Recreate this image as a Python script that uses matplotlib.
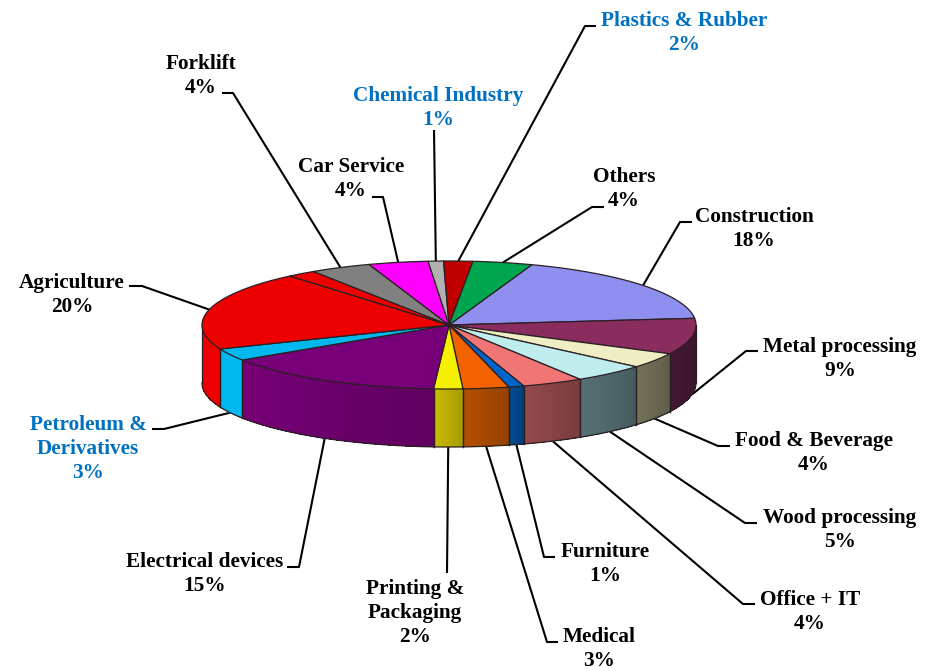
import numpy as np
import matplotlib
matplotlib.use('Agg')
import matplotlib.pyplot as plt
from matplotlib.colors import to_rgb

# clockwise from the construction slice
labels = ['Construction\n18%', 'Metal processing\n9%', 'Food & Beverage\n4%', 'Wood processing\n5%',
          'Office + IT\n4%', 'Furniture\n1%', 'Medical\n3%', 'Printing &\nPackaging\n2%',
          'Electrical devices\n15%', 'Petroleum &\nDerivatives\n3%', 'Agriculture\n20%', '',
          'Forklift\n4%', 'Car Service\n4%', 'Chemical Industry\n1%', 'Plastics & Rubber\n2%', 'Others\n4%']
values = [17.9, 9.1, 3.9, 4.8, 4.0, 1.0, 3.0, 1.9, 14.8, 3.1, 20.0, 1.9, 4.0, 3.9, 1.0, 1.9, 3.9]

top_colors = ['#8f8fef', '#8b2c5f', '#efedc3', '#bfedee', '#f07575', '#0066cc', '#f26300', '#f5f000',
              '#780078', '#00b8ee', '#ee0000', '#ee0000', '#808080', '#ff00ff', '#b2b2b2', '#c00000', '#00a550']
side_colors = ['#5a5a96', '#3f1630', '#6c6a52', '#4f686c', '#8a4448', '#00478c', '#a84a00', '#bdb000',
               '#6e006e', '#00b8ee', '#ee0000', '#ee0000', '#808080', '#ff00ff', '#b2b2b2', '#c00000', '#00a550']
text_colors = {'Petroleum &\nDerivatives\n3%', 'Chemical Industry\n1%', 'Plastics & Rubber\n2%'}

# label centres and leader line start / elbow, in pixels
label_pos = [(754, 229), (840, 359), (814, 453), (840, 530), (810, 612), (605, 564), (599, 649), (415, 613),
             (205, 574), (88, 449), (72, 295), None, (201, 76), (351, 179), (438, 108), (684, 33), (624, 189)]
leader_pts = [[(692, 222), (680, 222)], [(758, 351), (746, 351)], [(730, 446), (718, 446)], [(757, 523), (745, 523)],
              [(755, 604), (743, 604)], [(555, 557), (544, 557)], [(558, 642), (547, 642)], [(447, 573)],
              [(287, 567), (299, 567)], [(152, 429), (164, 429)], [(129, 286), (142, 286)], None,
              [(222, 93), (233, 93)], [(372, 197), (383, 197)], [(434, 130)], [(596, 26), (585, 26)], [(604, 207), (592, 207)]]

cx, cy, a, b, depth = 449, 325, 247, 64, 58
start_angle = 19.6
edge = '#2a2024'


def rim(ang):
    ang = np.radians(ang)
    return cx + a * np.sin(ang), cy - b * np.cos(ang)


def shade(color, f):
    return tuple(min(1, c * f) for c in to_rgb(color))


fig = plt.figure(figsize=(9.31, 6.71), dpi=100)
ax = fig.add_axes([0, 0, 1, 1])
ax.set_xlim(0, 931)
ax.set_ylim(671, 0)
ax.axis('off')

bounds = start_angle + np.cumsum([0] + values) * 360 / sum(values)

# side wall, only the front half shows
for i in range(len(values)):
    lo, hi = max(bounds[i], 90), min(bounds[i + 1], 270)
    if hi <= lo:
        continue
    steps = np.linspace(lo, hi, max(int((hi - lo) * 2), 2) + 1)
    for j in range(len(steps) - 1):
        # angle grows leftwards along the front, left end is the lighter one
        f = 0.88 + 0.2 * (j / (len(steps) - 1)) if i < 9 else 1.0
        x0, y0 = rim(steps[j])
        x1, y1 = rim(steps[j + 1])
        ax.fill([x0, x1, x1, x0], [y0, y1, y1 + depth, y0 + depth], facecolor=shade(side_colors[i], f),
                edgecolor='none', lw=0, antialiased=False, zorder=2)
    xs, ys = rim(steps)
    ax.plot(xs, ys + depth, color=edge, lw=0.9, zorder=3)
    for ang in (lo, hi):
        x0, y0 = rim(ang)
        ax.plot([x0, x0], [y0, y0 + depth], color=edge, lw=0.9, zorder=3)

# top face
for i in range(len(values)):
    steps = np.linspace(bounds[i], bounds[i + 1], 60)
    xs, ys = rim(steps)
    ax.fill(np.r_[cx, xs], np.r_[cy, ys], facecolor=top_colors[i], edgecolor=edge, lw=0.9, zorder=4)

# labels and leaders
for i, lab in enumerate(labels):
    if not lab:
        continue
    mid = (bounds[i] + bounds[i + 1]) / 2
    ex, ey = rim(mid)
    if 90 < mid < 270:
        ey += depth
    pts = leader_pts[i] + [(ex, ey)]
    ax.plot([p[0] for p in pts], [p[1] for p in pts], color='black', lw=1.5, zorder=1, solid_capstyle='butt')
    ax.text(label_pos[i][0], label_pos[i][1], lab, ha='center', va='center', multialignment='center',
            family='Liberation Serif', weight='bold', fontsize=15.35, linespacing=1.29,
            color='#0070c0' if lab in text_colors else 'black', zorder=5)

fig.savefig('out.png', dpi=100)
